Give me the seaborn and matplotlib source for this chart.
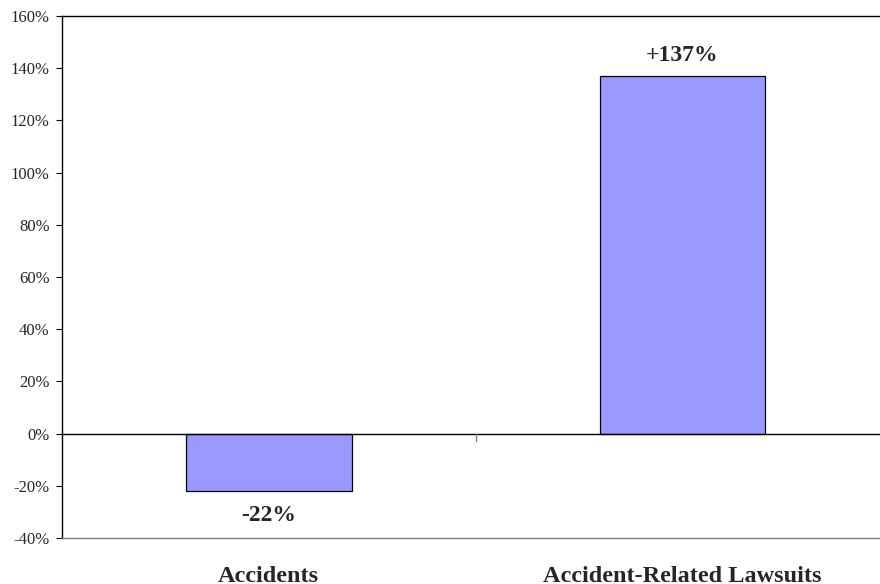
import seaborn as sns
import matplotlib.pyplot as plt
import pandas as pd
from matplotlib.ticker import FuncFormatter

categories = ['Accidents', 'Accident-Related Lawsuits']
changes = [-22, 137]
labels = ['-22%', '+137%']

df = pd.DataFrame({'category': categories, 'change': changes})

sns.set_style('white')
plt.rcParams['font.family'] = ['Liberation Serif', 'DejaVu Serif']

fig = plt.figure(figsize=(8.8, 5.84), dpi=100)
ax = fig.add_axes([0.0705, 0.0788, 0.9295, 0.8938])

sns.barplot(x='category', y='change', data=df, color='#9999FF', saturation=1,
            edgecolor='black', linewidth=0.9, width=0.4, ax=ax)

ax.set_xlim(-0.5, 1.478)
ax.set_ylim(-40, 160)
ax.set_yticks(range(-40, 161, 20))
ax.yaxis.set_major_formatter(FuncFormatter(lambda v, p: f'{v:.0f}%'))
ax.tick_params(axis='y', labelsize=12, length=4, width=0.8, color='black', left=True, pad=5)
ax.tick_params(axis='x', length=0, labelsize=17.5, pad=20)
for t in ax.get_xticklabels():
    t.set_fontweight('bold')
ax.set_xlabel('')
ax.set_ylabel('')

ax.axhline(0, color='black', linewidth=1)
# category separator tick on the zero line
ax.plot([0.5, 0.5], [0, -3], color='gray', linewidth=1, clip_on=False)

for i, (v, lab) in enumerate(zip(changes, labels)):
    if v >= 0:
        ax.text(i, v + 4, lab, ha='center', va='bottom', fontsize=17, fontweight='bold')
    else:
        ax.text(i, v - 5.5, lab, ha='center', va='top', fontsize=17, fontweight='bold')

for s in ['left', 'top']:
    ax.spines[s].set_color('black')
    ax.spines[s].set_linewidth(1)
ax.spines['bottom'].set_color('gray')
ax.spines['bottom'].set_linewidth(1)
ax.spines['right'].set_visible(False)

fig.savefig('out.png', dpi=100)
